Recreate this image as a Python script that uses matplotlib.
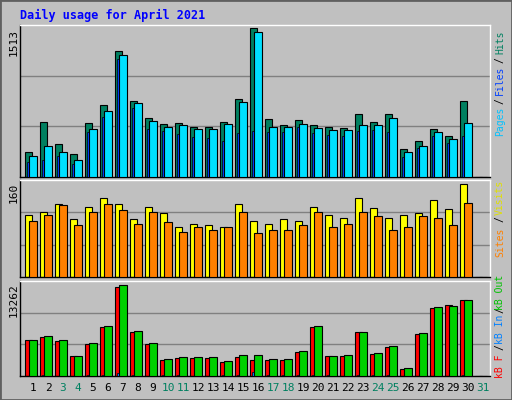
import matplotlib
matplotlib.use("Agg")
import matplotlib.pyplot as plt
from matplotlib.patches import Rectangle

days = list(range(1, 32))
hits = [244,546,325,224,536,716,1258,760,586,525,536,495,495,546,777,1479,576,515,566,515,495,485,626,546,626,274,355,475,405,756,0]
files = [214,305,244,174,475,656,1218,736,556,495,515,475,475,525,746,1439,495,495,525,485,465,465,515,515,586,244,305,445,375,536,0]
pages = [154,174,214,134,445,596,1178,686,475,455,425,395,385,355,435,455,445,445,495,435,415,405,455,465,445,204,284,405,335,405,0]
visits = [102,108,120,95,115,130,120,95,115,105,83,87,85,83,120,93,87,95,93,115,103,98,130,113,97,103,105,127,112,153,0]
sites = [93,103,118,85,107,120,110,87,108,90,75,82,77,82,107,73,77,77,85,108,82,88,107,100,78,82,100,98,85,122,0]
kbf = [5025,5444,4886,2792,4467,6840,12424,6142,4467,2233,2513,2513,2513,1954,2652,2233,2233,2233,3350,6840,2792,2792,6142,3071,4048,977,5863,9492,9911,10609,0]
kbout = [5025,5584,5025,2792,4606,6980,12703,6282,4606,2373,2652,2652,2652,2094,2931,2931,2373,2373,3490,6980,2792,2931,6142,3211,4188,1117,6002,9632,9771,10609,0]
kbin = [60,150,40,50,180,160,400,150,60,160,150,40,30,120,160,500,160,140,120,130,130,40,150,130,160,50,40,40,40,170,0]
weekends = [3,4,10,11,17,18,24,25,31]
ymax = [1513, 160, 13262]

BG = "#C0C0C0"
fig = plt.figure(figsize=(5.12, 4.0), dpi=100, facecolor=BG)
fig.patches.append(Rectangle((0, 0), 1, 1, transform=fig.transFigure, fill=False, edgecolor="#606060", lw=2))
mono = "DejaVu Sans Mono"

def mkax(top, bot):
    ax = fig.add_axes([20/512, (400-bot)/400, 470/512, (bot-top)/400])
    ax.set_facecolor(BG)
    ax.set_xlim(0.133, 31.47)
    for s in ax.spines.values():
        s.set_color("black"); s.set_linewidth(1)
    ax.spines["top"].set_color("white"); ax.spines["right"].set_color("white")
    ax.set_xticks([]); ax.set_yticks([])
    return ax

x = [d for d in days]
w = 0.49
ax1 = mkax(25, 177)
ax1.set_ylim(0, ymax[0])
for g in (ymax[0]/3, 2*ymax[0]/3):
    ax1.axhline(g, color="#808080", lw=1, zorder=0)
ax1.bar([d-0.29 for d in x], hits, width=w, color="#008060", edgecolor="black", lw=0.8, zorder=2)
ax1.bar([d-0.31 for d in x], pages, width=0.13, color="#0040FF", edgecolor="black", lw=0.5, zorder=3)
ax1.bar(x, files, width=w, color="#00E0FF", edgecolor="black", lw=0.8, zorder=4)

ax2 = mkax(180, 277)
ax2.set_ylim(0, ymax[1])
for g in (ymax[1]/3, 2*ymax[1]/3):
    ax2.axhline(g, color="#808080", lw=1, zorder=0)
ax2.bar([d-0.29 for d in x], visits, width=w, color="#FFFF00", edgecolor="black", lw=0.8, zorder=2)
ax2.bar(x, sites, width=w, color="#FF8000", edgecolor="black", lw=0.8, zorder=4)

ax3 = mkax(281, 376)
ax3.set_ylim(0, ymax[2])
for g in (ymax[2]/3, 2*ymax[2]/3):
    ax3.axhline(g, color="#808080", lw=1, zorder=0)
ax3.bar([d-0.29 for d in x], kbf, width=w, color="#FF0000", edgecolor="black", lw=0.8, zorder=2)
ax3.bar([d-0.31 for d in x], kbin, width=0.13, color="#0080FF", edgecolor="black", lw=0.5, zorder=3)
ax3.bar(x, kbout, width=w, color="#00D000", edgecolor="black", lw=0.8, zorder=4)

fig.text(20/512, 1-15/400, "Daily usage for April 2021", color="#0000FF", fontsize=8.5,
         fontweight="bold", family=mono, va="center")

for d in days:
    c = "#008060" if d in weekends else "black"
    fig.text((33 + (d-1)*15)/512, 1-388/400, str(d), color=c, fontsize=8, family=mono, ha="center", va="center")

for lbl, top in zip(["1513", "160", "13262"], [29, 183, 283]):
    fig.text(14/512, 1-top/400, lbl, rotation=90, fontsize=8, family=mono, ha="center", va="top")

def rlab(items):
    for txt, col, yc in items:
        fig.text(500/512, 1-yc/400, txt, color=col, rotation=90, fontsize=7, family=mono,
                 ha="center", va="center")

rlab([("Pages", "#00C0FF", 121), ("/", "black", 101), ("Files", "#0040FF", 80),
      ("/", "black", 60), ("Hits", "#008060", 42)])
rlab([("Sites", "#FF8000", 242), ("/", "black", 219), ("Visits", "#E0E000", 197)])
rlab([("kB F", "#FF0000", 366), ("/", "black", 347), ("kB In", "#0080FF", 329),
      ("/", "black", 310), ("kB Out", "#00C000", 292)])

fig.savefig("out.png", dpi=100, facecolor=BG)
